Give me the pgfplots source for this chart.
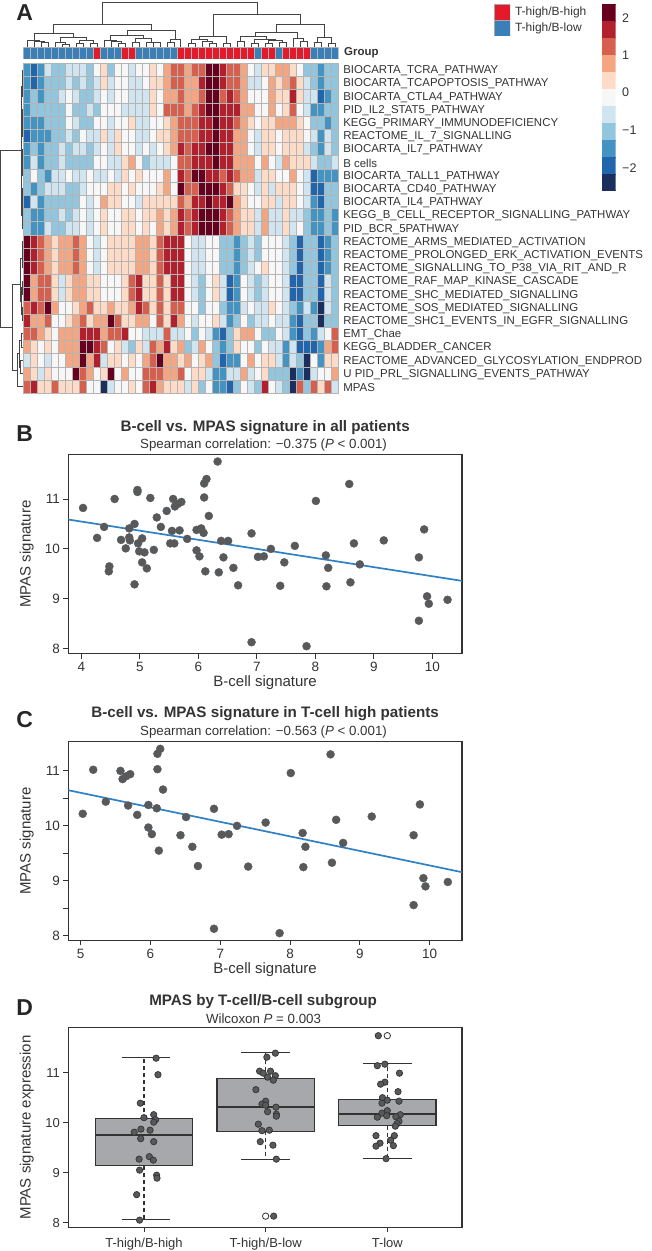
\documentclass[border=0pt]{standalone}
\usepackage{fontspec}
\setmainfont{Liberation Sans}
\usepackage{pgfplots}
\pgfplotsset{compat=1.18}
\usepgfplotslibrary{statistics}

\definecolor{txt}{HTML}{333333}
\definecolor{dotc}{HTML}{58595B}
\definecolor{linec}{HTML}{2F80C4}
\definecolor{boxc}{HTML}{A7A8AB}
\definecolor{dend}{HTML}{444444}
\definecolor{grpblue}{HTML}{3A7FB8}
\definecolor{grpred}{HTML}{E31A2C}
\definecolor{cellline}{HTML}{B4B4B4}

% levels 0..10 of the heat map
\pgfplotsset{
  colormap={rdbu}{rgb255=(27,47,95) rgb255=(33,102,172) rgb255=(67,147,195) rgb255=(146,197,222)
    rgb255=(209,229,240) rgb255=(247,247,247) rgb255=(253,219,199) rgb255=(244,165,130)
    rgb255=(214,96,77) rgb255=(178,32,46) rgb255=(103,0,31)},
  panel/.style={
    scale only axis, width=393.7pt,
    /pgf/number format/assume math mode=true,
    axis line style={draw=txt,line width=1.1pt},
    tick style={draw=txt,line width=0.9pt},
    major tick length=5pt, minor tick length=5pt,
    xtick pos=bottom, ytick pos=left,
    tick align=outside,
    tick label style={font=\fontsize{13.5}{15}\selectfont,text=txt},
    label style={font=\fontsize{15}{17}\selectfont,text=txt},
    title style={font=\fontsize{15.2}{17}\selectfont\bfseries,text=txt,anchor=center,
      at={(axis description cs:0.5,1)}},
    ylabel style={at={(axis description cs:0,0.5)},yshift=41.6pt,anchor=center},
    xlabel style={at={(axis description cs:0.5,0)},yshift=-29.3pt,anchor=center},
  },
  pts/.style={only marks,mark=*,mark size=4pt,color=dotc},
}
\tikzset{
  sublab/.style={font=\fontsize{13.3}{15}\selectfont,text=txt},
  letter/.style={font=\fontsize{23}{23}\selectfont\bfseries,text=black!85},
}
\newcommand\dn[5]{\addplot[dend,line width=0.8pt] coordinates {(#1,#2)(#1,#5)(#3,#5)(#3,#4)};}
\newcommand\dl[5]{\addplot[dend,line width=0.8pt] coordinates {(#2,#1)(#5,#1)(#5,#3)(#4,#3)};}

\begin{document}
\begin{tikzpicture}
\path[use as bounding box] (0pt,0pt) rectangle (651pt,1251pt);

\node[letter] at (24.7pt,1238pt) {A};
\node[letter] at (24.7pt,817.3pt) {B};
\node[letter] at (24.7pt,531pt) {C};
\node[letter] at (24.7pt,243.2pt) {D};

% top dendrogram, in 3x pixel units
\begin{axis}[at={(0pt,1189pt)},anchor=south west,scale only axis,width=345pt,height=62pt,
  hide axis,clip=false,xmin=0,xmax=1035,ymin=0,ymax=186,y dir=reverse]
\dn{307}{73}{771}{42}{6}
\dn{161}{100}{455}{92}{73}
\dn{640}{110}{901}{73}{42}
\dn{103}{122}{219}{113}{100}
\dn{81}{140}{117}{125}{122}
\dn{102}{140}{133}{128}{125}
\dn{123}{140}{144}{140}{128}
\dn{180}{126}{259}{122}{113}
\dn{165}{140}{196}{133}{126}
\dn{186}{140}{207}{140}{133}
\dn{238}{130}{280}{130}{122}
\dn{228}{140}{249}{140}{130}
\dn{270}{140}{291}{140}{130}
\dn{382}{107}{526}{118}{92}
\dn{330}{122}{430}{114}{107}
\dn{312}{140}{348}{125}{122}
\dn{333}{140}{364}{129}{125}
\dn{354}{140}{375}{140}{129}
\dn{406}{128}{453}{126}{114}
\dn{396}{140}{417}{140}{128}
\dn{438}{140}{469}{128}{126}
\dn{459}{140}{480}{140}{128}
\dn{512}{127}{541}{140}{118}
\dn{501}{140}{522}{140}{127}
\dn{598}{118}{680}{130}{110}
\dn{574}{130}{621}{125}{118}
\dn{564}{140}{585}{140}{130}
\dn{606}{140}{637}{130}{125}
\dn{627}{140}{648}{140}{130}
\dn{669}{140}{690}{140}{130}
\dn{828}{98}{973}{112}{73}
\dn{765}{108}{893}{115}{98}
\dn{721}{125}{800}{118}{108}
\dn{711}{140}{732}{140}{125}
\dn{763}{130}{826}{120}{118}
\dn{753}{140}{774}{140}{130}
\dn{805}{130}{847}{127}{120}
\dn{795}{140}{816}{140}{130}
\dn{837}{140}{858}{140}{127}
\dn{879}{140}{910}{125}{115}
\dn{900}{140}{921}{140}{125}
\dn{952}{127}{994}{130}{112}
\dn{942}{140}{963}{140}{127}
\dn{984}{140}{1005}{140}{130}
\end{axis}

% left dendrogram, in pixel units
\begin{axis}[at={(0pt,857.7pt)},anchor=south west,scale only axis,width=23.3pt,height=330pt,
  hide axis,clip=false,xmin=0,xmax=23.3,ymin=63.3,ymax=393.3,y dir=reverse]
\dl{150}{21}{327}{12.7}{0.7}
\dl{110}{21.7}{190}{21.7}{21}
\dl{70}{23.3}{83}{23.3}{22.4}
\dl{76.5}{22.4}{96}{23.3}{22.1}
\dl{86}{22.1}{123}{22.2}{21.7}
\dl{109}{23.3}{136}{23.3}{22.2}
\dl{149}{23.3}{162}{23.3}{22.4}
\dl{155.5}{22.4}{175}{23.3}{22.1}
\dl{165}{22.1}{215}{22}{21.7}
\dl{188}{23.3}{201.5}{23.3}{22.4}
\dl{195}{22.4}{215}{23.3}{22}
\dl{215}{22}{228.3}{23.3}{21.9}
\dl{284}{20.7}{370}{17.3}{12.7}
\dl{258}{22}{301}{21.5}{20.7}
\dl{241.5}{23.3}{261.3}{22.3}{22}
\dl{254.7}{23.3}{267.9}{23.3}{22.3}
\dl{287.7}{22.4}{314}{22}{21.5}
\dl{281.1}{23.3}{294.3}{23.3}{22.4}
\dl{307.5}{23.3}{320.7}{23.3}{22}
\dl{353.8}{19.3}{386.7}{23.3}{17.3}
\dl{340.5}{21}{367}{20.8}{19.3}
\dl{333.9}{23.3}{347.1}{23.3}{21}
\dl{360.3}{23.3}{373.5}{23.3}{20.8}
\end{axis}

% group bar
\begin{axis}[at={(23.3pt,1192pt)},anchor=south west,scale only axis,width=315pt,height=11.3pt,
  axis line style={draw=none},tick style={draw=none},xtick=\empty,ytick=\empty,
  enlargelimits=false,xmin=-0.5,xmax=44.5,ymin=0,ymax=1]
\addplot[ybar,bar width=7pt,bar shift=0pt,fill=grpblue,draw=gray!60,line width=0.4pt] coordinates {
(0,1)(1,1)(2,1)(3,1)(4,1)(5,1)(6,1)(7,1)(8,1)(9,1)(11,1)(12,1)(13,1)(16,1)(17,1)(18,1)(19,1)(20,1)(21,1)
(33,1)(36,1)(41,1)(42,1)(43,1)(44,1)};
\addplot[ybar,bar width=7pt,bar shift=0pt,fill=grpred,draw=gray!60,line width=0.4pt] coordinates {
(10,1)(14,1)(15,1)(22,1)(23,1)(24,1)(25,1)(26,1)(27,1)(28,1)(29,1)(30,1)(31,1)(32,1)
(34,1)(35,1)(37,1)(38,1)(39,1)(40,1)};
\end{axis}

% heat map: one square mark per cell, coloured by level
\begin{axis}[at={(23.3pt,857.7pt)},anchor=south west,scale only axis,width=315pt,height=330pt,
  axis line style={draw=cellline,line width=0.6pt},major tick length=0pt,minor tick length=0pt,
  enlargelimits=false,xmin=-0.5,xmax=44.5,ymin=-0.5,ymax=24.5,y dir=reverse,colormap name=rdbu,
  point meta min=0,point meta max=10,
  axis on top,clip marker paths=true,
  xtick={0,...,44},xticklabels={},minor x tick num=1,
  ytick={0,...,24},minor y tick num=1,
  xmajorgrids=false,ymajorgrids=false,xminorgrids=true,yminorgrids=true,
  minor grid style={draw=cellline,line width=0.6pt},
  yticklabel pos=right,
  yticklabel style={font=\fontsize{11.45}{13}\selectfont,text=txt,anchor=west,xshift=1.5pt,yshift=-1pt},
  yticklabels={BIOCARTA\_TCRA\_PATHWAY,BIOCARTA\_TCAPOPTOSIS\_PATHWAY,BIOCARTA\_CTLA4\_PATHWAY,
    PID\_IL2\_STAT5\_PATHWAY,KEGG\_PRIMARY\_IMMUNODEFICIENCY,REACTOME\_IL\_7\_SIGNALLING,
    BIOCARTA\_IL7\_PATHWAY,B cells,BIOCARTA\_TALL1\_PATHWAY,BIOCARTA\_CD40\_PATHWAY,
    BIOCARTA\_IL4\_PATHWAY,KEGG\_B\_CELL\_RECEPTOR\_SIGNALLING\_PATHWAY,PID\_BCR\_5PATHWAY,
    REACTOME\_ARMS\_MEDIATED\_ACTIVATION,REACTOME\_PROLONGED\_ERK\_ACTIVATION\_EVENTS,
    REACTOME\_SIGNALLING\_TO\_P38\_VIA\_RIT\_AND\_R,REACTOME\_RAF\_MAP\_KINASE\_CASCADE,
    REACTOME\_SHC\_MEDIATED\_SIGNALLING,REACTOME\_SOS\_MEDIATED\_SIGNALLING,
    REACTOME\_SHC1\_EVENTS\_IN\_EGFR\_SIGNALLING,EMT\_Chae,KEGG\_BLADDER\_CANCER,
    REACTOME\_ADVANCED\_GLYCOSYLATION\_ENDPROD,U PID\_PRL\_SIGNALLING\_EVENTS\_PATHWAY,MPAS}]
\addplot[scatter,only marks,mark=square*,mark size=6.6pt,point meta=explicit,
  mark options={xscale=0.5303,line width=0.2pt},
  scatter/use mapped color={fill=mapped color,draw=mapped color}]
  table[row sep=crcr,header=false,x expr={\coordindex-45*floor((\coordindex+0.5)/45)},y expr={floor((\coordindex+0.5)/45)},meta index=0]{
2\\1\\2\\4\\3\\3\\4\\4\\4\\3\\5\\6\\3\\5\\5\\4\\5\\5\\6\\5\\7\\8\\8\\7\\8\\8\\10\\10\\9\\8\\8\\7\\5\\4\\6\\6\\7\\7\\6\\5\\3\\3\\2\\3\\3\\
2\\1\\2\\3\\3\\3\\4\\3\\4\\3\\4\\6\\4\\5\\5\\4\\4\\5\\6\\6\\7\\8\\8\\7\\7\\9\\10\\10\\9\\8\\8\\7\\4\\4\\5\\7\\6\\7\\8\\6\\4\\3\\2\\3\\3\\
2\\3\\2\\3\\3\\4\\5\\4\\3\\3\\4\\5\\4\\5\\5\\4\\4\\4\\6\\5\\7\\7\\8\\7\\7\\8\\10\\10\\8\\9\\8\\7\\5\\5\\5\\7\\6\\6\\9\\6\\4\\4\\1\\2\\3\\
2\\3\\3\\3\\3\\3\\5\\3\\3\\4\\3\\5\\5\\5\\4\\4\\4\\4\\6\\5\\8\\8\\8\\7\\8\\9\\10\\10\\9\\9\\9\\7\\7\\5\\5\\7\\5\\6\\8\\5\\4\\2\\2\\3\\3\\
2\\2\\2\\3\\3\\3\\5\\4\\3\\3\\5\\5\\4\\5\\5\\6\\4\\4\\5\\5\\6\\7\\8\\8\\8\\9\\9\\10\\9\\9\\8\\7\\6\\5\\6\\6\\7\\7\\7\\6\\5\\3\\3\\2\\3\\
1\\2\\2\\2\\3\\3\\4\\3\\5\\4\\4\\6\\4\\6\\5\\5\\4\\4\\5\\6\\6\\7\\8\\8\\8\\9\\9\\10\\9\\9\\7\\7\\5\\4\\6\\6\\5\\6\\6\\6\\5\\4\\2\\4\\3\\
2\\3\\2\\3\\3\\4\\3\\4\\4\\3\\4\\5\\4\\6\\5\\5\\4\\5\\4\\5\\6\\7\\9\\8\\9\\9\\10\\10\\9\\9\\7\\7\\5\\4\\6\\6\\5\\6\\6\\6\\4\\3\\2\\4\\3\\
2\\4\\2\\3\\3\\4\\3\\3\\3\\3\\5\\5\\4\\4\\6\\7\\5\\3\\4\\4\\4\\5\\8\\8\\9\\9\\9\\10\\9\\9\\7\\7\\7\\5\\7\\5\\4\\7\\6\\6\\6\\4\\3\\3\\4\\
3\\5\\3\\2\\4\\4\\5\\4\\4\\5\\4\\4\\5\\4\\6\\5\\6\\5\\5\\5\\7\\5\\9\\8\\10\\10\\9\\9\\8\\9\\8\\7\\7\\4\\6\\6\\5\\5\\7\\5\\4\\1\\2\\2\\2\\
3\\2\\3\\4\\4\\4\\3\\3\\4\\5\\5\\5\\6\\6\\5\\6\\5\\5\\5\\6\\7\\5\\10\\8\\8\\10\\10\\10\\9\\8\\6\\6\\5\\4\\6\\4\\6\\6\\6\\5\\4\\1\\1\\3\\3\\
1\\4\\2\\3\\3\\3\\3\\3\\5\\4\\5\\7\\6\\6\\5\\5\\4\\6\\6\\6\\6\\6\\8\\7\\9\\9\\10\\9\\9\\10\\7\\6\\5\\5\\6\\6\\4\\6\\6\\5\\4\\2\\1\\3\\3\\
3\\2\\2\\3\\3\\4\\3\\4\\5\\4\\5\\6\\5\\5\\6\\6\\5\\6\\6\\7\\6\\7\\9\\8\\9\\10\\10\\10\\9\\8\\7\\6\\6\\4\\7\\4\\4\\6\\4\\4\\3\\2\\2\\3\\2\\
3\\2\\2\\4\\3\\3\\4\\4\\5\\4\\5\\6\\5\\5\\6\\6\\5\\6\\5\\7\\6\\7\\9\\8\\9\\10\\10\\10\\9\\8\\7\\6\\6\\4\\7\\4\\4\\6\\4\\5\\3\\2\\2\\3\\2\\
10\\9\\8\\7\\6\\7\\7\\8\\7\\5\\4\\5\\6\\6\\6\\6\\7\\7\\6\\8\\9\\9\\9\\5\\4\\4\\5\\5\\3\\3\\2\\3\\4\\3\\5\\5\\5\\4\\3\\1\\3\\3\\1\\2\\3\\
10\\9\\8\\7\\6\\7\\7\\8\\7\\5\\4\\5\\6\\6\\6\\6\\7\\7\\6\\8\\9\\9\\9\\5\\4\\4\\5\\5\\3\\3\\2\\3\\4\\3\\5\\5\\5\\4\\3\\1\\3\\3\\1\\2\\3\\
10\\9\\8\\7\\6\\7\\7\\8\\7\\5\\4\\5\\6\\6\\6\\6\\7\\7\\6\\8\\9\\9\\9\\5\\4\\4\\5\\5\\3\\3\\2\\3\\4\\5\\6\\5\\5\\4\\3\\1\\3\\3\\1\\2\\3\\
10\\7\\8\\8\\6\\4\\6\\7\\7\\6\\6\\5\\5\\5\\6\\8\\9\\6\\6\\8\\6\\9\\9\\5\\4\\3\\5\\6\\4\\1\\2\\5\\4\\3\\4\\5\\5\\4\\1\\1\\3\\3\\1\\4\\3\\
10\\7\\8\\8\\6\\4\\6\\7\\7\\6\\6\\5\\5\\5\\6\\8\\9\\6\\6\\8\\6\\9\\9\\5\\4\\3\\5\\6\\4\\1\\2\\5\\4\\3\\4\\5\\5\\4\\1\\1\\3\\3\\1\\4\\3\\
8\\9\\8\\10\\7\\5\\5\\6\\7\\8\\6\\6\\7\\6\\6\\7\\9\\8\\6\\8\\6\\8\\8\\5\\5\\3\\5\\5\\3\\2\\2\\4\\5\\4\\4\\6\\5\\4\\3\\2\\4\\2\\0\\4\\3\\
9\\7\\7\\8\\5\\5\\6\\7\\8\\6\\7\\7\\10\\8\\6\\6\\7\\7\\5\\8\\6\\9\\7\\5\\4\\5\\5\\6\\4\\2\\3\\5\\3\\4\\4\\5\\4\\4\\2\\1\\3\\3\\0\\3\\3\\
8\\8\\7\\6\\5\\7\\7\\7\\9\\9\\9\\7\\8\\8\\9\\5\\5\\4\\4\\4\\8\\4\\4\\5\\3\\5\\4\\2\\1\\3\\6\\7\\7\\5\\3\\3\\5\\4\\2\\1\\3\\2\\4\\5\\8\\
7\\6\\5\\6\\5\\7\\7\\7\\10\\10\\9\\8\\5\\6\\4\\3\\6\\4\\8\\7\\9\\6\\7\\3\\4\\7\\5\\3\\2\\3\\6\\5\\5\\3\\5\\4\\4\\2\\4\\1\\1\\1\\2\\7\\8\\
4\\6\\5\\4\\5\\5\\7\\7\\10\\7\\9\\4\\6\\6\\5\\6\\5\\7\\8\\10\\7\\7\\6\\7\\5\\6\\7\\3\\1\\2\\2\\5\\7\\5\\6\\6\\4\\2\\4\\3\\0\\5\\2\\6\\6\\
7\\6\\4\\6\\5\\5\\5\\10\\8\\7\\5\\6\\10\\5\\7\\5\\5\\8\\8\\8\\7\\7\\8\\5\\6\\6\\4\\2\\2\\4\\4\\7\\4\\5\\6\\3\\3\\3\\0\\2\\0\\4\\5\\5\\7\\
8\\9\\6\\6\\8\\6\\6\\6\\8\\5\\5\\0\\4\\5\\5\\6\\5\\8\\9\\7\\6\\6\\6\\4\\6\\3\\5\\2\\2\\1\\3\\5\\4\\3\\9\\5\\4\\3\\0\\8\\3\\8\\6\\8\\4\\
};
\end{axis}
\node[font=\fontsize{11.45}{13}\selectfont\bfseries,text=txt,anchor=west] at (340.7pt,1198pt) {Group};

% group legend
\begin{axis}[at={(494pt,1215pt)},anchor=south west,scale only axis,width=16pt,height=32pt,
  axis line style={draw=none},tick style={draw=none},xtick=\empty,ytick=\empty,
  enlargelimits=false,xmin=-0.5,xmax=0.5,ymin=0,ymax=2]
\addplot[ybar,bar width=16pt,bar shift=0pt,fill=grpred,draw=gray!70,line width=0.6pt] coordinates {(0,2)};
\addplot[ybar,bar width=16pt,bar shift=0pt,fill=grpblue,draw=gray!70,line width=0.6pt] coordinates {(0,1)};
\end{axis}
\node[font=\fontsize{12}{14}\selectfont,text=txt,anchor=west] at (511.5pt,1239pt) {T-high/B-high};
\node[font=\fontsize{12}{14}\selectfont,text=txt,anchor=west] at (511.5pt,1223pt) {T-high/B-low};

% colour bar
\begin{axis}[at={(601.7pt,1060.3pt)},anchor=south west,scale only axis,width=14pt,height=186.7pt,
  axis line style={draw=none},major tick length=0pt,xtick=\empty,
  enlargelimits=false,xmin=-0.5,xmax=1.5,ymin=-0.5,ymax=10.5,y dir=reverse,colormap name=rdbu,
  yticklabel pos=right,ytick={0.307,2.5,4.72,6.94,9.16},yticklabels={2,1,0,−1,−2},
  yticklabel style={font=\fontsize{12.5}{14}\selectfont,text=txt,anchor=west,xshift=3pt}]
\addplot[matrix plot*,mesh/cols=2,colormap access=direct,point meta=explicit,draw=none,faceted color=none]
  table[x=x,y=y,meta=v]{
x y v
0 0 10
1 0 10
0 1 9
1 1 9
0 2 8
1 2 8
0 3 7
1 3 7
0 4 6
1 4 6
0 5 5
1 5 5
0 6 4
1 6 4
0 7 3
1 7 3
0 8 2
1 8 2
0 9 1
1 9 1
0 10 0
1 10 0
};
\end{axis}

% B
\begin{axis}[panel,at={(68.3pt,597.3pt)},anchor=south west,height=199.4pt,
  xmin=3.778,xmax=10.507,ymin=7.9,ymax=11.895,xtick={4,...,10},ytick={8,9,10,11},
  xlabel={B-cell signature},ylabel={MPAS signature},
  title={B-cell vs. MPAS signature in all patients},title style={yshift=21pt}]
\addplot[pts] coordinates {
(4.03,10.82)(4.27,10.22)(4.39,10.44)(4.57,11.00)(4.48,9.65)(4.47,9.55)(4.68,10.18)(4.76,10.01)
(4.82,10.41)(4.82,10.23)(4.83,10.17)(4.91,10.50)(4.91,9.29)(4.96,11.18)(4.96,11.14)(4.97,10.11)
(5.04,10.21)(4.99,9.95)(5.08,9.93)(5.04,9.73)(5.12,9.61)(5.18,11.02)(5.24,9.98)(5.29,10.63)
(5.36,10.44)(5.46,10.76)(5.52,10.11)(5.55,10.36)(5.59,10.11)(5.57,11.00)(5.60,10.85)(5.65,10.90)
(5.71,10.94)(5.68,10.37)(5.81,10.20)(5.97,10.38)(5.97,9.97)(6.02,9.85)(6.05,10.41)(6.09,10.32)
(6.10,11.03)(6.10,11.31)(6.14,11.40)(6.18,10.66)(6.12,9.55)(6.33,11.75)(6.35,9.53)(6.39,10.16)
(6.43,9.83)(6.51,10.16)(6.60,9.62)(6.68,9.27)(6.91,10.31)(6.91,8.13)(7.02,9.84)(7.12,9.85)
(7.24,10.00)(7.40,9.26)(7.47,9.73)(7.65,10.06)(7.85,8.05)(8.01,10.96)(8.18,9.87)(8.19,9.25)
(8.22,9.62)(8.58,11.30)(8.60,9.33)(8.66,10.11)(8.76,9.69)(9.17,10.17)(9.77,9.83)(9.86,10.39)
(9.91,9.05)(9.94,8.90)(9.77,8.56)(10.26,8.98)};
\addplot[linec,line width=1.7pt] coordinates {(3.778,10.588)(10.507,9.359)};
\end{axis}
\node[sublab] at (263.5pt,805.7pt) {Spearman correlation: −0.375 (\textit{P} < 0.001)};

% C
\begin{axis}[panel,at={(68.3pt,310.7pt)},anchor=south west,height=198.6pt,
  xmin=4.823,xmax=10.463,ymin=7.92,ymax=11.53,xtick={5,...,10},ytick={8,9,10,11},minor y tick num=1,
  xlabel={B-cell signature},ylabel={MPAS signature},
  title={B-cell vs. MPAS signature in T-cell high patients},title style={yshift=21.8pt}]
\addplot[pts] coordinates {
(5.03,10.22)(5.18,11.02)(5.36,10.44)(5.57,11.0)(5.60,10.85)(5.65,10.90)(5.71,10.94)(5.68,10.37)
(5.81,10.20)(5.97,10.38)(5.97,9.97)(6.02,9.85)(6.09,10.32)(6.10,11.03)(6.10,11.31)(6.14,11.40)
(6.18,10.66)(6.12,9.55)(6.43,9.83)(6.51,10.16)(6.60,9.62)(6.68,9.27)(6.91,10.31)(6.91,8.13)
(7.02,9.84)(7.12,9.85)(7.24,10.0)(7.40,9.26)(7.65,10.06)(7.85,8.05)(8.01,10.96)(8.18,9.87)
(8.19,9.25)(8.22,9.62)(8.58,11.30)(8.60,9.33)(8.66,10.11)(8.76,9.69)(9.17,10.17)(9.77,9.83)
(9.86,10.39)(9.91,9.05)(9.94,8.90)(9.77,8.56)(10.26,8.98)};
\addplot[linec,line width=1.7pt] coordinates {(4.823,10.648)(10.463,9.158)};
\end{axis}
\node[sublab] at (263.5pt,518.7pt) {Spearman correlation: −0.563 (\textit{P} < 0.001)};

% D
\begin{axis}[panel,at={(68.3pt,23.7pt)},anchor=south west,height=199.6pt,
  xmin=0.378,xmax=3.614,ymin=7.907,ymax=11.9,xtick={1,2,3},xticklabels={T-high/B-high,T-high/B-low,T-low},
  ytick={8,9,10,11},ylabel={MPAS signature expression},
  tick label style={font=\fontsize{13}{15}\selectfont,text=txt},
  xticklabel style={yshift=-2pt},
  boxplot/draw direction=y,boxplot/box extend=0.8,boxplot/whisker extend=0,
  boxplot/every whisker/.style={dash pattern=on 4pt off 3pt,line width=1.1pt},
  boxplot/every median/.style={line width=2.2pt},
  title={MPAS by T-cell/B-cell subgroup},title style={xshift=-2pt,yshift=20.3pt}]
\addplot[boxplot prepared={draw position=1,lower whisker=8.07,lower quartile=9.14,median=9.75,
  upper quartile=10.08,upper whisker=11.31},draw=black!80,fill=boxc,line width=1.3pt] coordinates {};
\addplot[boxplot prepared={draw position=2,lower whisker=9.27,lower quartile=9.83,median=10.31,
  upper quartile=10.89,upper whisker=11.40},draw=black!80,fill=boxc,line width=1.3pt] coordinates {};
\addplot[boxplot prepared={draw position=3,lower whisker=9.28,lower quartile=9.94,median=10.17,
  upper quartile=10.47,upper whisker=11.18},draw=black!80,fill=boxc,line width=1.3pt] coordinates {};
\addplot[black!80,line width=1.1pt] coordinates {(0.816,8.07)(1.21,8.07)};
\addplot[black!80,line width=1.1pt] coordinates {(0.816,11.31)(1.21,11.31)};
\addplot[black!80,line width=1.1pt] coordinates {(1.80,9.27)(2.2,9.27)};
\addplot[black!80,line width=1.1pt] coordinates {(1.80,11.40)(2.2,11.40)};
\addplot[black!80,line width=1.1pt] coordinates {(2.80,9.28)(3.2,9.28)};
\addplot[black!80,line width=1.1pt] coordinates {(2.80,11.18)(3.2,11.18)};
\addplot[only marks,mark=*,mark size=3.2pt,mark options={fill=dotc,draw=black!80,line width=0.7pt}] coordinates {
(1.10,11.29)(1.115,10.96)(0.97,10.39)(1.08,10.16)(1.00,10.10)(1.096,10.06)(1.08,10.01)(0.975,9.87)
(1.05,9.85)(0.92,9.81)(0.973,9.68)(1.08,9.62)(0.96,9.27)(1.044,9.32)(1.077,9.25)(0.964,9.05)
(1.104,8.95)(1.107,8.89)(0.94,8.56)(0.964,8.05)
(2.08,11.39)(2.01,11.31)(1.95,11.03)(1.98,10.99)(2.04,11.03)(2.08,10.94)(2.016,10.91)(2.063,10.85)
(1.92,10.66)(2.00,10.43)(1.97,10.37)(2.0,10.35)(2.085,10.31)(2.016,10.22)(2.088,10.17)(2.088,10.13)
(1.94,9.97)(1.97,9.84)(2.03,9.85)(1.956,9.62)(2.06,9.55)(2.088,9.27)(2.066,8.13)
(2.926,11.74)(2.918,11.14)(2.98,11.17)(3.10,10.99)(2.98,10.81)(2.945,10.77)(3.088,10.62)(2.96,10.5)
(2.956,10.39)(3.0,10.45)(3.096,10.43)(3.0,10.24)(2.956,10.19)(3.107,10.16)(2.918,10.11)(2.995,10.14)
(3.07,10.12)(3.096,10.03)(3.08,9.98)(3.066,9.93)(2.907,9.74)(3.058,9.74)(3.027,9.65)(2.94,9.59)
(2.907,9.53)(3.05,9.54)(2.99,9.28)};
\addplot[only marks,mark=*,mark size=3.2pt,mark options={fill=white,draw=black!80,line width=0.8pt}] coordinates {
(2.0,8.13)(3.0,11.74)};
\end{axis}
\node[sublab] at (263.5pt,232pt) {Wilcoxon \textit{P} = 0.003};
\end{tikzpicture}
\end{document}
